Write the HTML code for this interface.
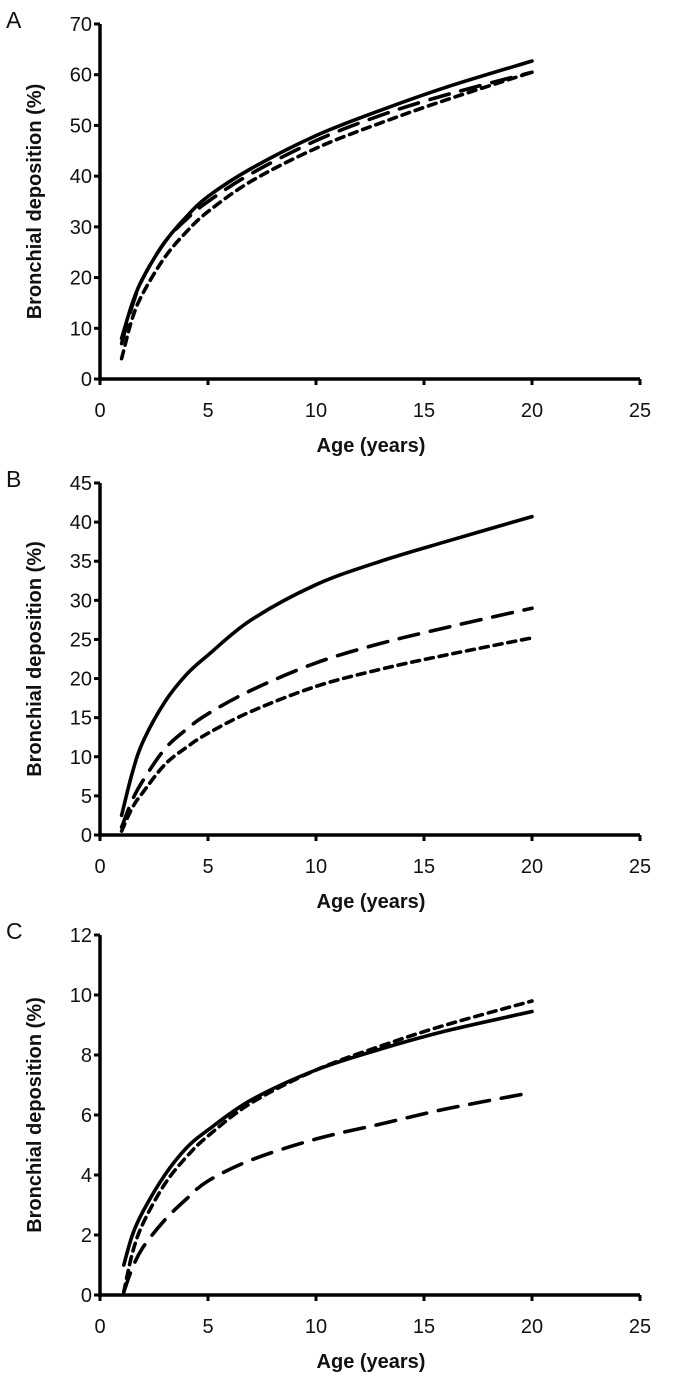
<!DOCTYPE html>
<html><head><meta charset="utf-8"><style>
body{margin:0;background:#fff;width:675px;height:1383px;overflow:hidden}
svg{display:block}
text{font-family:"Liberation Sans",Arial,sans-serif;fill:#111}
</style></head><body>
<svg id="fig" width="675" height="1383" viewBox="0 0 675 1383"></svg>
<script>
// Shared x data (age, years)
const ages = [1, 1.5, 2, 3, 4, 5, 7, 10, 13, 16, 20];
const xTicks = [0, 5, 10, 15, 20, 25];

// Panel A values (%)
const aSolid = [8, 15, 20, 27, 32, 36, 41.5, 48, 53, 57.5, 62.7];
const aLong  = [7, 14.5, 20, 27, 31.5, 35, 40.5, 47, 52, 56, 60.5];
const aShort = [4, 12, 17, 24, 29, 33, 39, 45.5, 50.5, 55, 60.5];
const aTicks = [0, 10, 20, 30, 40, 50, 60, 70];

// Panel B values (%)
const bSolid = [2.5, 8, 12, 17, 20.5, 23, 27.5, 32, 35, 37.5, 40.7];
const bLong  = [1, 4.5, 7, 11, 13.5, 15.5, 18.5, 22, 24.5, 26.5, 29];
const bShort = [0.5, 3.5, 5.5, 9, 11.2, 13, 15.8, 19, 21.2, 23, 25.2];
const bTicks = [0, 5, 10, 15, 20, 25, 30, 35, 40, 45];

// Panel C values (%)
const cAges  = [1.1, 1.5, 2, 3, 4, 5, 7, 10, 13, 16, 20];
const cSolid = [1.0, 2.0, 2.8, 4.0, 4.9, 5.5, 6.5, 7.5, 8.2, 8.8, 9.45];
const cShort = [0.1, 1.4, 2.4, 3.7, 4.6, 5.3, 6.4, 7.5, 8.3, 9.0, 9.8];
const cLong  = [0.1, 0.9, 1.6, 2.5, 3.2, 3.8, 4.5, 5.2, 5.7, 6.2, 6.75];
const cTicks = [0, 2, 4, 6, 8, 10, 12];

const NS = "http://www.w3.org/2000/svg";
const svg = document.getElementById('fig');
function mk(tag, attrs, parent){const e=document.createElementNS(NS,tag);for(const k in attrs)e.setAttribute(k,attrs[k]);(parent||svg).appendChild(e);return e;}

function smoothPath(pts){
  let d = "M"+pts[0][0].toFixed(1)+","+pts[0][1].toFixed(1);
  for(let i=0;i<pts.length-1;i++){
    const p0=pts[Math.max(i-1,0)],p1=pts[i],p2=pts[i+1],p3=pts[Math.min(i+2,pts.length-1)];
    const c1x=p1[0]+(p2[0]-p0[0])/6,c1y=p1[1]+(p2[1]-p0[1])/6;
    const c2x=p2[0]-(p3[0]-p1[0])/6,c2y=p2[1]-(p3[1]-p1[1])/6;
    d+=" C"+c1x.toFixed(1)+","+c1y.toFixed(1)+" "+c2x.toFixed(1)+","+c2y.toFixed(1)+" "+p2[0].toFixed(1)+","+p2[1].toFixed(1);
  }
  return d;
}

function panel(cfg){
  const g = mk('g',{});
  
  
  const x0=100,x1=640, yb=cfg.yb, yt=cfg.yt, ymax=cfg.ticks[cfg.ticks.length-1];
  const sx=v=>x0+(x1-x0)*v/25;
  const sy=v=>yb-(yb-yt)*v/ymax;
  const lt = mk('text',{x:6,y:yt+4,'font-size':23},g); lt.textContent=cfg.letter;
  
  
  const ya = mk('line',{x1:x0,y1:yt,x2:x0,y2:yb+2,stroke:'#000','stroke-width':3.5},g);
  
  
  const xa = mk('line',{x1:x0-2,y1:yb,x2:x1,y2:yb,stroke:'#000','stroke-width':3.5},g);
  
  
  cfg.ticks.forEach(t=>{
    mk('line',{x1:x0-6,y1:sy(t),x2:x0,y2:sy(t),stroke:'#000','stroke-width':3},g);
    const tx=mk('text',{x:x0-8,y:sy(t)+7,'font-size':20,'text-anchor':'end'},g); tx.textContent=t;
    
    
  });
  xTicks.forEach(t=>{
    mk('line',{x1:sx(t),y1:yb,x2:sx(t),y2:yb+6,stroke:'#000','stroke-width':3},g);
    const tx=mk('text',{x:sx(t),y:yb+38,'font-size':20,'text-anchor':'middle'},g); tx.textContent=t;
    
    
  });
  const xt=mk('text',{x:371,y:yb+73,'font-size':20,'font-weight':'bold','text-anchor':'middle'},g); xt.textContent='Age (years)';
  
  
  const cy=(yt+yb)/2;
  const yt2=mk('text',{x:0,y:0,'font-size':20,'font-weight':'bold','text-anchor':'middle',transform:'translate(41,'+cy+') rotate(-90)'},g); yt2.textContent='Bronchial deposition (%)';
  
  
  cfg.series.forEach(s=>{
    const pts=s.vals.map((v,i)=>[sx(s.xs[i]),sy(v)]);
    const p=mk('path',{d:smoothPath(pts),fill:'none',stroke:'#000','stroke-width':3.6,'stroke-linecap':'round','stroke-dasharray':s.dash||'none'},g);
    
    
  });
}

panel({letter:'A',yt:24,yb:379,ticks:aTicks,series:[
  {name:'series-solid',xs:ages,vals:aSolid},
  {name:'series-long-dash',xs:ages,vals:aLong,dash:'20 12'},
  {name:'series-short-dash',xs:ages,vals:aShort,dash:'8 6'}]});
panel({letter:'B',yt:483,yb:835,ticks:bTicks,series:[
  {name:'series-solid',xs:ages,vals:bSolid},
  {name:'series-long-dash',xs:ages,vals:bLong,dash:'20 12'},
  {name:'series-short-dash',xs:ages,vals:bShort,dash:'8 6'}]});
panel({letter:'C',yt:935,yb:1295,ticks:cTicks,series:[
  {name:'series-solid',xs:cAges,vals:cSolid},
  {name:'series-long-dash',xs:cAges,vals:cLong,dash:'20 12'},
  {name:'series-short-dash',xs:cAges,vals:cShort,dash:'8 6'}]});
</script>
</body></html>
